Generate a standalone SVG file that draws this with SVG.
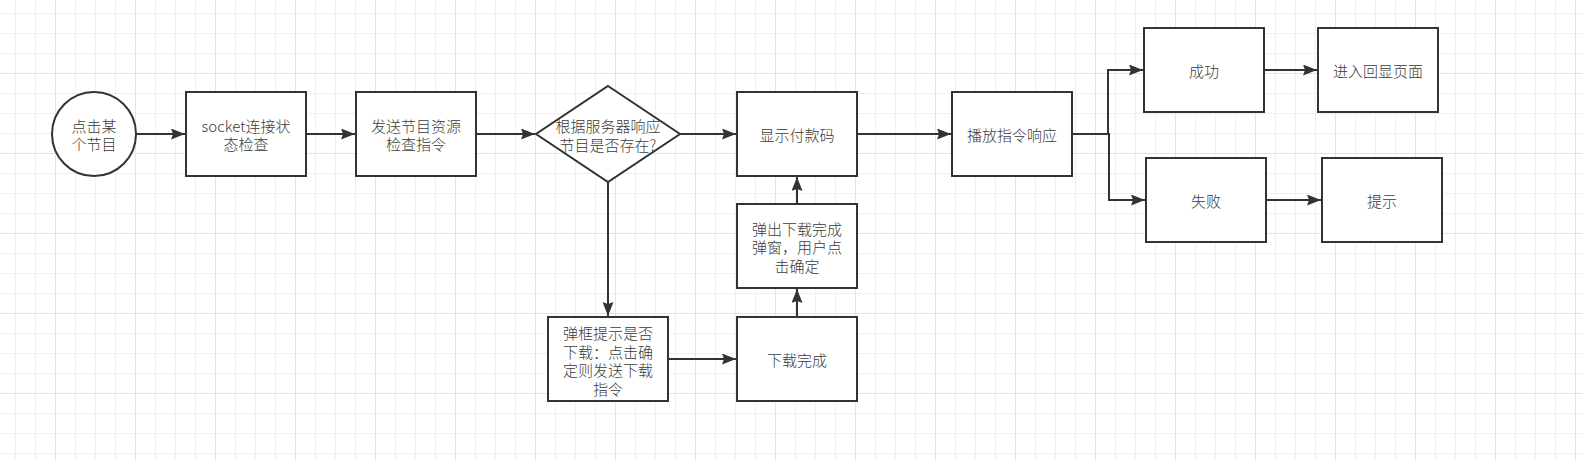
<svg xmlns="http://www.w3.org/2000/svg" width="1582" height="460" viewBox="0 0 1582 460">
<style>
.node{fill:#ffffff;stroke:#333333;stroke-width:2}
.lbl{font-family:"Noto Sans CJK SC","Liberation Sans",sans-serif;font-size:15px;font-weight:300;fill:#3a3a3a;text-anchor:middle;dominant-baseline:central}
.edge{fill:none;stroke:#333333;stroke-width:2;marker-end:url(#arr)}
</style>
<defs>
<pattern id="gmin" x="15" y="13" width="20" height="20" patternUnits="userSpaceOnUse">
<rect x="0" y="0" width="1" height="20" fill="#f0f0f0"/>
<rect x="0" y="0" width="20" height="1" fill="#f0f0f0"/>
</pattern>
<pattern id="gmaj" x="55" y="73" width="80" height="80" patternUnits="userSpaceOnUse">
<rect x="0" y="0" width="1" height="80" fill="#e3e3e3"/>
<rect x="0" y="0" width="80" height="1" fill="#e3e3e3"/>
</pattern>
<marker id="arr" viewBox="0 0 14 11" refX="14" refY="5.5" markerWidth="14" markerHeight="11" markerUnits="userSpaceOnUse" orient="auto">
<path d="M0,0 L14,5.5 L0,11 L2,5.5 Z" fill="#333333"/>
</marker>
</defs>
<rect width="1582" height="460" fill="#ffffff"/>
<rect width="1582" height="460" fill="url(#gmin)"/>
<rect width="1582" height="460" fill="url(#gmaj)"/>

<g id="connectors">
<path class="edge" d="M136,134 H185"/>
<path class="edge" d="M306,134 H355"/>
<path class="edge" d="M476,134 H535"/>
<path class="edge" d="M680,134 H736"/>
<path class="edge" d="M857,134 H951"/>
<path class="edge" d="M1072,134 H1108 V70 H1143"/>
<path class="edge" d="M1072,134 H1109 V200 H1145"/>
<path class="edge" d="M1264,70 H1317"/>
<path class="edge" d="M1266,200 H1321"/>
<path class="edge" d="M608,182 V316"/>
<path class="edge" d="M668,359 H736"/>
<path class="edge" d="M797,317 V289"/>
<path class="edge" d="M797,204 V177"/>
</g>

<g id="n-start">
<ellipse class="node" cx="94" cy="134" rx="42" ry="42"/>
<text class="lbl" x="94" y="125">点击某</text>
<text class="lbl" x="94" y="143.5">个节目</text>
</g>
<g id="n-socket">
<rect class="node" x="186" y="92" width="120" height="84"/>
<text class="lbl" x="246" y="125">socket连接状</text>
<text class="lbl" x="246" y="143.5">态检查</text>
</g>
<g id="n-send">
<rect class="node" x="356" y="92" width="120" height="84"/>
<text class="lbl" x="416" y="125">发送节目资源</text>
<text class="lbl" x="416" y="143.5">检查指令</text>
</g>
<g id="n-decide">
<polygon class="node" points="608,86 680,134 608,182 536,134"/>
<text class="lbl" x="608" y="125.5">根据服务器响应</text>
<text class="lbl" x="608" y="144">节目是否存在?</text>
</g>
<g id="n-pay">
<rect class="node" x="737" y="92" width="120" height="84"/>
<text class="lbl" x="797" y="134">显示付款码</text>
</g>
<g id="n-play">
<rect class="node" x="952" y="92" width="120" height="84"/>
<text class="lbl" x="1012" y="134">播放指令响应</text>
</g>
<g id="n-ok">
<rect class="node" x="1144" y="28" width="120" height="84"/>
<text class="lbl" x="1204" y="70">成功</text>
</g>
<g id="n-enter">
<rect class="node" x="1318" y="28" width="120" height="84"/>
<text class="lbl" x="1378" y="70">进入回显页面</text>
</g>
<g id="n-fail">
<rect class="node" x="1146" y="158" width="120" height="84"/>
<text class="lbl" x="1206" y="200">失败</text>
</g>
<g id="n-tip">
<rect class="node" x="1322" y="158" width="120" height="84"/>
<text class="lbl" x="1382" y="200">提示</text>
</g>
<g id="n-ask">
<rect class="node" x="548" y="317" width="120" height="84"/>
<text class="lbl" x="608" y="332.5">弹框提示是否</text>
<text class="lbl" x="608" y="351">下载：点击确</text>
<text class="lbl" x="608" y="369.5">定则发送下载</text>
<text class="lbl" x="608" y="388">指令</text>
</g>
<g id="n-done">
<rect class="node" x="737" y="317" width="120" height="84"/>
<text class="lbl" x="797" y="359">下载完成</text>
</g>
<g id="n-popup">
<rect class="node" x="737" y="204" width="120" height="84"/>
<text class="lbl" x="797" y="228">弹出下载完成</text>
<text class="lbl" x="797" y="246.5">弹窗，用户点</text>
<text class="lbl" x="797" y="265">击确定</text>
</g>
</svg>
